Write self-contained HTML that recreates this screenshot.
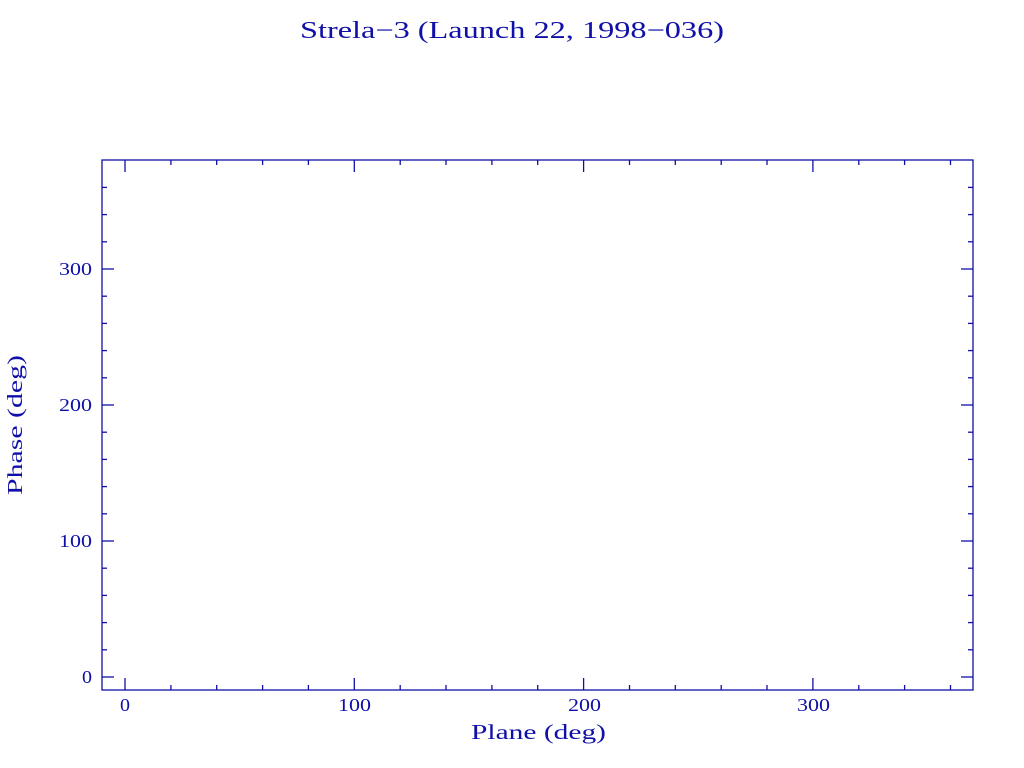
<!DOCTYPE html>
<html><head><meta charset="utf-8"><style>
html,body{margin:0;padding:0;background:#fff;}
svg{display:block;}
text{font-family:"Liberation Serif",serif;fill:#1010a8;}
</style></head><body>
<svg width="1024" height="768" viewBox="0 0 1024 768">
<rect x="102" y="160" width="871" height="530" fill="none" stroke="#1010a8" stroke-width="1.3"/>
<g stroke="#1010a8" stroke-width="1.3">
<line x1="125" y1="690" x2="125" y2="678"/><line x1="125" y1="160" x2="125" y2="172"/>
<line x1="170.9" y1="690" x2="170.9" y2="685"/><line x1="170.9" y1="160" x2="170.9" y2="165"/>
<line x1="216.7" y1="690" x2="216.7" y2="685"/><line x1="216.7" y1="160" x2="216.7" y2="165"/>
<line x1="262.6" y1="690" x2="262.6" y2="685"/><line x1="262.6" y1="160" x2="262.6" y2="165"/>
<line x1="308.4" y1="690" x2="308.4" y2="685"/><line x1="308.4" y1="160" x2="308.4" y2="165"/>
<line x1="354.3" y1="690" x2="354.3" y2="678"/><line x1="354.3" y1="160" x2="354.3" y2="172"/>
<line x1="400.2" y1="690" x2="400.2" y2="685"/><line x1="400.2" y1="160" x2="400.2" y2="165"/>
<line x1="446" y1="690" x2="446" y2="685"/><line x1="446" y1="160" x2="446" y2="165"/>
<line x1="491.9" y1="690" x2="491.9" y2="685"/><line x1="491.9" y1="160" x2="491.9" y2="165"/>
<line x1="537.7" y1="690" x2="537.7" y2="685"/><line x1="537.7" y1="160" x2="537.7" y2="165"/>
<line x1="583.6" y1="690" x2="583.6" y2="678"/><line x1="583.6" y1="160" x2="583.6" y2="172"/>
<line x1="629.5" y1="690" x2="629.5" y2="685"/><line x1="629.5" y1="160" x2="629.5" y2="165"/>
<line x1="675.3" y1="690" x2="675.3" y2="685"/><line x1="675.3" y1="160" x2="675.3" y2="165"/>
<line x1="721.2" y1="690" x2="721.2" y2="685"/><line x1="721.2" y1="160" x2="721.2" y2="165"/>
<line x1="767" y1="690" x2="767" y2="685"/><line x1="767" y1="160" x2="767" y2="165"/>
<line x1="812.9" y1="690" x2="812.9" y2="678"/><line x1="812.9" y1="160" x2="812.9" y2="172"/>
<line x1="858.8" y1="690" x2="858.8" y2="685"/><line x1="858.8" y1="160" x2="858.8" y2="165"/>
<line x1="904.6" y1="690" x2="904.6" y2="685"/><line x1="904.6" y1="160" x2="904.6" y2="165"/>
<line x1="950.5" y1="690" x2="950.5" y2="685"/><line x1="950.5" y1="160" x2="950.5" y2="165"/>
<line x1="102" y1="677" x2="114" y2="677"/><line x1="973" y1="677" x2="961" y2="677"/>
<line x1="102" y1="649.8" x2="107" y2="649.8"/><line x1="973" y1="649.8" x2="968" y2="649.8"/>
<line x1="102" y1="622.6" x2="107" y2="622.6"/><line x1="973" y1="622.6" x2="968" y2="622.6"/>
<line x1="102" y1="595.4" x2="107" y2="595.4"/><line x1="973" y1="595.4" x2="968" y2="595.4"/>
<line x1="102" y1="568.2" x2="107" y2="568.2"/><line x1="973" y1="568.2" x2="968" y2="568.2"/>
<line x1="102" y1="541" x2="114" y2="541"/><line x1="973" y1="541" x2="961" y2="541"/>
<line x1="102" y1="513.8" x2="107" y2="513.8"/><line x1="973" y1="513.8" x2="968" y2="513.8"/>
<line x1="102" y1="486.6" x2="107" y2="486.6"/><line x1="973" y1="486.6" x2="968" y2="486.6"/>
<line x1="102" y1="459.4" x2="107" y2="459.4"/><line x1="973" y1="459.4" x2="968" y2="459.4"/>
<line x1="102" y1="432.2" x2="107" y2="432.2"/><line x1="973" y1="432.2" x2="968" y2="432.2"/>
<line x1="102" y1="405" x2="114" y2="405"/><line x1="973" y1="405" x2="961" y2="405"/>
<line x1="102" y1="377.8" x2="107" y2="377.8"/><line x1="973" y1="377.8" x2="968" y2="377.8"/>
<line x1="102" y1="350.6" x2="107" y2="350.6"/><line x1="973" y1="350.6" x2="968" y2="350.6"/>
<line x1="102" y1="323.4" x2="107" y2="323.4"/><line x1="973" y1="323.4" x2="968" y2="323.4"/>
<line x1="102" y1="296.2" x2="107" y2="296.2"/><line x1="973" y1="296.2" x2="968" y2="296.2"/>
<line x1="102" y1="269" x2="114" y2="269"/><line x1="973" y1="269" x2="961" y2="269"/>
<line x1="102" y1="241.8" x2="107" y2="241.8"/><line x1="973" y1="241.8" x2="968" y2="241.8"/>
<line x1="102" y1="214.6" x2="107" y2="214.6"/><line x1="973" y1="214.6" x2="968" y2="214.6"/>
<line x1="102" y1="187.4" x2="107" y2="187.4"/><line x1="973" y1="187.4" x2="968" y2="187.4"/>
</g>
<g font-size="18">
<text x="120" y="711" textLength="10" lengthAdjust="spacingAndGlyphs">0</text>
<text x="338" y="711" textLength="33" lengthAdjust="spacingAndGlyphs">100</text>
<text x="568" y="711" textLength="33" lengthAdjust="spacingAndGlyphs">200</text>
<text x="797" y="711" textLength="33" lengthAdjust="spacingAndGlyphs">300</text>
<text x="82" y="683" textLength="10" lengthAdjust="spacingAndGlyphs">0</text>
<text x="59" y="547" textLength="33" lengthAdjust="spacingAndGlyphs">100</text>
<text x="59" y="411" textLength="33" lengthAdjust="spacingAndGlyphs">200</text>
<text x="59" y="275" textLength="33" lengthAdjust="spacingAndGlyphs">300</text>
</g>
<text x="471" y="739" font-size="21" textLength="135" lengthAdjust="spacingAndGlyphs">Plane (deg)</text>
<text x="0" y="0" font-size="21" textLength="140" lengthAdjust="spacingAndGlyphs" transform="translate(22,495) rotate(-90)">Phase (deg)</text>
<text x="300" y="38" font-size="24" textLength="424" lengthAdjust="spacingAndGlyphs">Strela−3 (Launch 22, 1998−036)</text>
</svg>
</body></html>
